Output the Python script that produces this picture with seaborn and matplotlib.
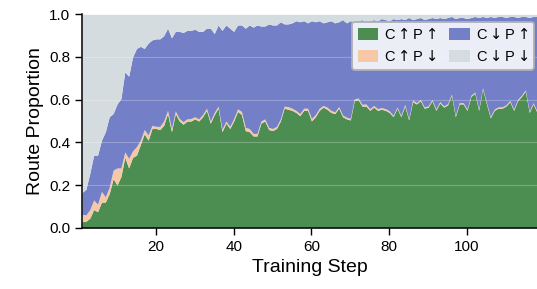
import numpy as np
import matplotlib
matplotlib.use("Agg")
import matplotlib.pyplot as plt
import seaborn as sns

# training steps
steps = np.arange(1, 119)

# C up P up (green)
c_up_p_up = [
    0.028, 0.03, 0.045, 0.085, 0.075, 0.12, 0.12, 0.16, 0.23, 0.20,
    0.24, 0.33, 0.28, 0.33, 0.34, 0.39, 0.44, 0.41, 0.465, 0.465,
    0.46, 0.48, 0.535, 0.45, 0.535, 0.50, 0.485, 0.50, 0.50, 0.51,
    0.50, 0.52, 0.55, 0.49, 0.53, 0.56, 0.45, 0.49, 0.465, 0.50,
    0.545, 0.53, 0.455, 0.45, 0.43, 0.43, 0.49, 0.50, 0.46, 0.455,
    0.465, 0.50, 0.56, 0.555, 0.55, 0.54, 0.525, 0.55, 0.55, 0.50,
    0.52, 0.55, 0.565, 0.555, 0.54, 0.535, 0.56, 0.52, 0.51, 0.505,
    0.595, 0.60, 0.57, 0.57, 0.55, 0.565, 0.55, 0.555, 0.55, 0.54,
    0.52, 0.56, 0.52, 0.57, 0.505, 0.59, 0.58, 0.595, 0.56, 0.565,
    0.595, 0.55, 0.585, 0.565, 0.575, 0.62, 0.52, 0.58, 0.58, 0.55,
    0.615, 0.63, 0.55, 0.65, 0.58, 0.515, 0.55, 0.56, 0.56, 0.57,
    0.59, 0.55, 0.595, 0.615, 0.64, 0.54, 0.58, 0.54,
]

# C up P down (peach), thin band on top of green
c_up_p_down = [
    0.035, 0.03, 0.04, 0.045, 0.035, 0.05, 0.025, 0.03, 0.04, 0.08,
    0.04, 0.025, 0.045, 0.03, 0.04, 0.02, 0.02, 0.025, 0.015, 0.01,
    0.015, 0.02, 0.015, 0.015, 0.012, 0.012, 0.012, 0.01, 0.012, 0.01,
    0.01, 0.01, 0.01, 0.01, 0.01, 0.01, 0.012, 0.01, 0.01, 0.012,
    0.012, 0.015, 0.015, 0.015, 0.012, 0.012, 0.01, 0.01, 0.01, 0.01,
    0.01, 0.01, 0.01, 0.012, 0.01, 0.01, 0.01, 0.01, 0.01, 0.012,
    0.01, 0.01, 0.008, 0.01, 0.01, 0.008, 0.008, 0.008, 0.008, 0.008,
    0.008, 0.008, 0.008, 0.01, 0.008, 0.008, 0.008, 0.008, 0.008, 0.008,
    0.006, 0.006, 0.006, 0.008, 0.006, 0.008, 0.006, 0.006, 0.006, 0.006,
    0.006, 0.006, 0.006, 0.006, 0.006, 0.006, 0.006, 0.006, 0.006, 0.006,
    0.006, 0.006, 0.006, 0.006, 0.006, 0.006, 0.006, 0.006, 0.006, 0.006,
    0.006, 0.006, 0.006, 0.006, 0.006, 0.006, 0.006, 0.006,
]

# top of the blue band (everything above is C down P down)
blue_top = [
    0.165, 0.18, 0.255, 0.34, 0.34, 0.41, 0.45, 0.52, 0.535, 0.58,
    0.605, 0.73, 0.71, 0.80, 0.84, 0.85, 0.84, 0.865, 0.88, 0.885,
    0.885, 0.90, 0.935, 0.89, 0.92, 0.92, 0.915, 0.925, 0.925, 0.93,
    0.92, 0.92, 0.935, 0.935, 0.91, 0.95, 0.925, 0.95, 0.935, 0.92,
    0.95, 0.95, 0.935, 0.95, 0.94, 0.95, 0.945, 0.945, 0.955, 0.95,
    0.95, 0.965, 0.955, 0.955, 0.96, 0.97, 0.965, 0.97, 0.96, 0.97,
    0.965, 0.97, 0.96, 0.965, 0.97, 0.96, 0.965, 0.975, 0.96, 0.97,
    0.965, 0.97, 0.975, 0.96, 0.97, 0.975, 0.97, 0.98, 0.975, 0.97,
    0.98, 0.975, 0.98, 0.975, 0.985, 0.975, 0.98, 0.985, 0.975, 0.98,
    0.985, 0.98, 0.985, 0.98, 0.985, 0.99, 0.98, 0.985, 0.985, 0.98,
    0.985, 0.99, 0.985, 0.99, 0.985, 0.99, 0.985, 0.99, 0.99, 0.985,
    0.99, 0.99, 0.985, 0.99, 0.99, 0.985, 0.99, 0.99,
]

labels = [r"C$\uparrow$P$\uparrow$", r"C$\uparrow$P$\downarrow$",
          r"C$\downarrow$P$\uparrow$", r"C$\downarrow$P$\downarrow$"]
colors = ["#4c8e51", "#f6c8a5", "#7380c8", "#d5dcdf"]

green = np.array(c_up_p_up)
peach = np.array(c_up_p_down)
blue = np.array(blue_top) - green - peach
gray = 1 - np.array(blue_top)

sns.set_theme(style="ticks")
plt.rcParams['font.family'] = ['Liberation Sans', 'DejaVu Sans']
plt.rcParams['text.color'] = 'black'
plt.rcParams['axes.labelcolor'] = 'black'
plt.rcParams['xtick.color'] = 'black'
plt.rcParams['ytick.color'] = 'black'

fig, ax = plt.subplots(figsize=(5.37, 2.89), dpi=100)
fig.subplots_adjust(left=0.1527, right=1.0, top=0.9505, bottom=0.2121)

ax.stackplot(steps, green, peach, blue, gray, labels=labels, colors=colors, linewidth=0)

ax.set_xlim(1, 118)
ax.set_ylim(0, 1)
ax.set_xticks([20, 40, 60, 80, 100])
ax.set_yticks([0, 0.2, 0.4, 0.6, 0.8, 1.0])
ax.set_axisbelow(False)
ax.grid(axis='y', color='white', alpha=0.25, linewidth=0.8)

ax.set_xlabel('Training Step', fontsize=14)
ax.set_ylabel('Route Proportion', fontsize=14)
ax.tick_params(labelsize=11, length=5, width=1, color='black')
for s in ['left', 'bottom']:
    ax.spines[s].set_color('black')
    ax.spines[s].set_linewidth(1.1)
sns.despine(ax=ax)

leg = ax.legend(loc='upper right', bbox_to_anchor=(0.993, 0.966), borderaxespad=0,
                ncol=2, fontsize=10.5, frameon=True, fancybox=True,
                handlelength=1.4, handleheight=0.9, columnspacing=0.9,
                labelspacing=0.45, handletextpad=0.4, borderpad=0.4)
leg.get_frame().set_facecolor('#f4f5fa')
leg.get_frame().set_edgecolor('#b0b0b8')
leg.get_frame().set_linewidth(1.4)
leg.get_frame().set_alpha(0.95)

fig.savefig('out.png', dpi=100)
